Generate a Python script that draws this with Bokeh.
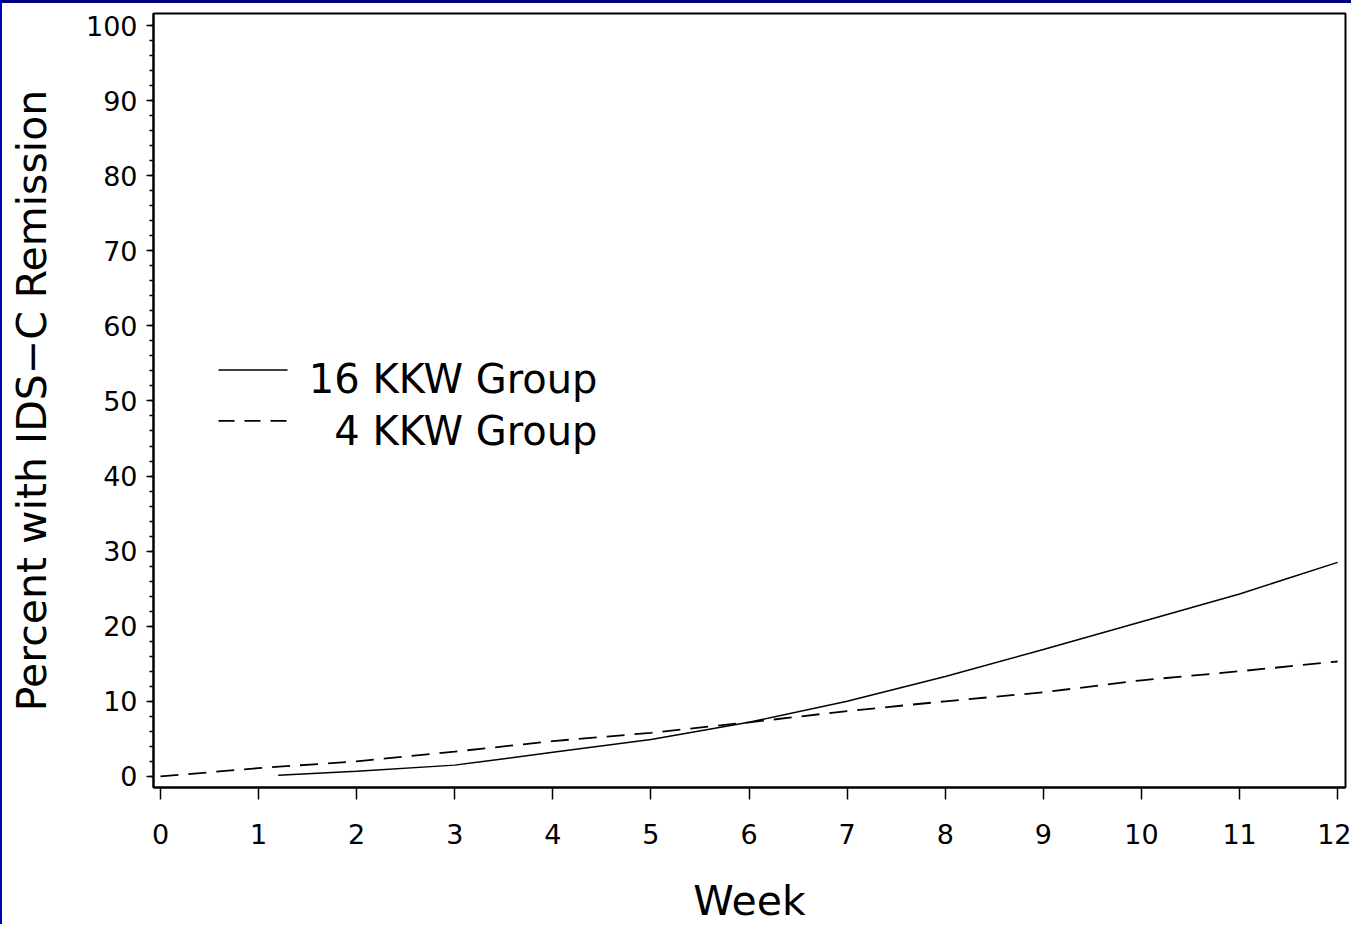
from bokeh.plotting import figure
from bokeh.models import Range1d, FixedTicker
from bokeh.embed import file_html
from bokeh.resources import INLINE
from bokeh.core.properties import value

# ---- data ----
weeks_4kkw = [0, 1, 2, 3, 4, 5, 6, 7, 8, 9, 10, 11, 12]
pct_4kkw = [0.0, 1.1, 2.0, 3.3, 4.7, 5.8, 7.2, 8.7, 10.0, 11.2, 12.8, 14.0, 15.3]
weeks_16kkw = [1.2, 2, 3, 4, 5, 6, 7, 8, 9, 10, 11, 12]
pct_16kkw = [0.15, 0.7, 1.5, 3.2, 4.9, 7.2, 10.0, 13.3, 16.9, 20.6, 24.3, 28.5]
legend_labels = ["16 KKW Group", "4 KKW Group"]
x_ticks = list(range(0, 13))
y_ticks = list(range(0, 101, 10))
x_title = "Week"
y_title = "Percent with IDS\u2212C Remission"

# ---- layout ----
W, H = 1351, 924
FL, FT, FR, FB = 151, 10, 1343, 785  # frame in canvas px
X0, X1 = -0.071, 12.08
Y0, Y1 = -1.48, 101.6
FONT = "DejaVu Sans"

p = figure(width=W, height=H, output_backend="svg", toolbar_location=None,
           x_range=Range1d(X0, X1), y_range=Range1d(Y0, Y1),
           min_border_left=FL, min_border_right=W - FR,
           min_border_top=FT, min_border_bottom=H - FB)
p.styles = {"border-top": "3px solid #000080", "border-left": "2px solid #0000b8"}
p.background_fill_color = "white"
p.border_fill_color = "white"
p.grid.visible = False
p.outline_line_color = "black"
p.outline_line_width = 2

def px2x(px):
    return X0 + (px - FL) * (X1 - X0) / (FR - FL)

def py2y(py):
    return Y1 - (py - FT) * (Y1 - Y0) / (FB - FT)

# axes
xa = p.xaxis[0]
xa.ticker = FixedTicker(ticks=x_ticks)
xa.axis_label = x_title
xa.axis_line_width = 2
xa.major_tick_line_width = 1.5
xa.major_tick_out = 12
xa.major_tick_in = 0
xa.minor_tick_out = 0
xa.major_label_standoff = 24
xa.major_label_text_font = FONT
xa.major_label_text_font_size = "27px"
xa.major_label_text_color = "black"
xa.axis_label_text_font = FONT
xa.axis_label_text_font_size = "41px"
xa.axis_label_text_font_style = "normal"
xa.axis_label_text_color = "black"
xa.axis_label_text_line_height = 0.8
xa.axis_label_standoff = 30

ya = p.yaxis[0]
ya.ticker = FixedTicker(ticks=y_ticks, minor_ticks=list(range(0, 101, 2)))
ya.axis_label = y_title
ya.axis_line_width = 2
ya.major_tick_line_width = 1.5
ya.minor_tick_line_width = 1.5
ya.major_tick_out = 7
ya.major_tick_in = 0
ya.minor_tick_out = 4
ya.minor_tick_in = 0
ya.major_label_standoff = 9
ya.major_label_text_font = FONT
ya.major_label_text_font_size = "27px"
ya.major_label_text_color = "black"
ya.axis_label_text_font = FONT
ya.axis_label_text_font_size = "41px"
ya.axis_label_text_font_style = "normal"
ya.axis_label_text_color = "black"
ya.axis_label_standoff = 27

# series
p.line(weeks_16kkw, pct_16kkw, line_color="black", line_width=1.5)
p.line(weeks_4kkw, pct_4kkw, line_color="black", line_width=1.8, line_dash="18 10")

# legend (manual, right-aligned labels)
lx0, lx1 = px2x(216), px2x(285)
p.line([lx0, lx1], [py2y(367), py2y(367)], line_color="black", line_width=1.5)
p.line([lx0, lx1], [py2y(418), py2y(418)], line_color="black", line_width=1.8, line_dash="16 10")
p.text(x=[px2x(595), px2x(595)], y=[py2y(376), py2y(428)], text=legend_labels,
       text_align="right", text_baseline="alphabetic",
       text_font=value(FONT), text_font_size="40px", text_color="black")

open("out.html", "w").write(file_html(p, INLINE))
